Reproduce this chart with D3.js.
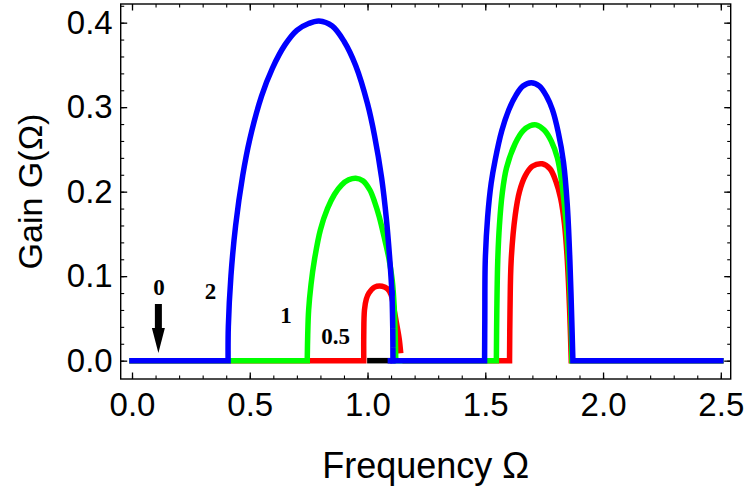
<!DOCTYPE html>
<html>
<head>
<meta charset="utf-8">
<script src="https://cdn.jsdelivr.net/npm/d3@7"></script>
<style>
  body { margin: 0; background: #fff; }
  svg { display: block; }
</style>
</head>
<body>
<div id="vis"></div>
<script>
// tick labels
const xTicks = [0, 0.5, 1, 1.5, 2, 2.5];
const yTicks = [0, 0.1, 0.2, 0.3, 0.4];
const xMinor = d3.range(0, 26).map(i => i / 10);
const yMinor = d3.range(0, 22).map(i => i / 50);

// curves, [frequency, gain]; null breaks a line
const blackLine = [[1.01, 0], [1.095, 0]];

const redLine = [[0, 0], [0.984, 0], null,
  [0.984, 0], [0.984, 0.03], [0.987, 0.06], [0.995, 0.073], [1.006, 0.08],
  [1.03, 0.087], [1.062, 0.088], [1.085, 0.085], [1.10, 0.078], [1.113, 0.06], [1.126, 0.04],
  [1.135, 0.025], [1.14, 0.012], null,
  [1.16, 0], [1.603, 0], null,
  [1.603, 0], [1.605, 0.06], [1.61, 0.119], [1.627, 0.172], [1.645, 0.2], [1.67, 0.219],
  [1.70, 0.23], [1.742, 0.233], [1.775, 0.227], [1.80, 0.212], [1.82, 0.192], [1.836, 0.162],
  [1.848, 0.12], [1.858, 0.06], [1.865, 0], null,
  [1.865, 0], [2.5, 0]];

const greenLine = [[0, 0], [0.744, 0], null,
  [0.744, 0], [0.746, 0.03], [0.75, 0.06], [0.76, 0.09], [0.775, 0.12],
  [0.80, 0.155], [0.83, 0.18], [0.86, 0.197], [0.89, 0.208], [0.92, 0.214], [0.95, 0.216],
  [0.98, 0.213], [1.01, 0.202], [1.03, 0.188], [1.05, 0.17], [1.07, 0.147], [1.09, 0.122],
  [1.105, 0.095], [1.113, 0.065], [1.117, 0.035], [1.12, 0], null,
  [1.12, 0], [1.547, 0], null,
  [1.547, 0], [1.549, 0.06], [1.553, 0.119], [1.56, 0.16], [1.572, 0.198], [1.59, 0.228],
  [1.627, 0.257], [1.66, 0.272], [1.69, 0.278], [1.716, 0.279], [1.75, 0.273], [1.78, 0.26],
  [1.806, 0.24], [1.825, 0.21], [1.84, 0.172], [1.852, 0.125], [1.862, 0.065], [1.868, 0], null,
  [1.868, 0], [2.5, 0]];

const blueLine = [[0, 0], [0.408, 0], null,
  [0.408, 0], [0.409, 0.04], [0.42, 0.10], [0.44, 0.16], [0.47, 0.219],
  [0.50, 0.262], [0.55, 0.313], [0.596, 0.346], [0.65, 0.374], [0.70, 0.391], [0.75, 0.399],
  [0.794, 0.402], [0.85, 0.396], [0.90, 0.378], [0.95, 0.349], [1.00, 0.304], [1.03, 0.266],
  [1.06, 0.216], [1.08, 0.168], [1.095, 0.118], [1.104, 0.08]];
const blueDash = [[1.104, 0.08], [1.107, 0.04], [1.108, 0]];
const blueLine2 = [[1.097, 0], [1.497, 0], null,
  [1.497, 0], [1.498, 0.05], [1.50, 0.119], [1.51, 0.17], [1.525, 0.21],
  [1.542, 0.2375], [1.57, 0.272], [1.60, 0.297], [1.63, 0.314], [1.66, 0.325], [1.695, 0.329],
  [1.73, 0.325], [1.76, 0.313], [1.785, 0.297], [1.81, 0.27], [1.832, 0.235], [1.848, 0.185],
  [1.859, 0.12], [1.866, 0.06], [1.872, 0], null,
  [1.872, 0], [2.5, 0]];

// curve labels and the arrow
const curveLabels = [
  {text: "0", x: 0.115, y: 0.087},
  {text: "2", x: 0.333, y: 0.082},
  {text: "1", x: 0.654, y: 0.054},
  {text: "0.5", x: 0.865, y: 0.029}
];
const arrowX = 0.112, arrowFrom = 0.067, arrowTo = 0.009;

const W = 750, H = 492;
const frame = {left: 120.7, right: 730.7, top: 4, bottom: 379};

const svg = d3.select("#vis").append("svg")
  .attr("width", W)
  .attr("height", H);

const x = d3.scaleLinear().domain([-0.048, 2.542]).range([frame.left, frame.right]);
const y = d3.scaleLinear().domain([-0.0217, 0.4221]).range([frame.bottom, frame.top]);

const font = "'Liberation Sans', Arial, sans-serif";

// ticks on all four sides, pointing inwards
function drawAxis(axisFn, scale, pos, major, minor, labels) {
  const gMinor = svg.append("g")
    .attr("transform", pos)
    .call(axisFn(scale).tickValues(minor).tickSize(-3.5).tickFormat(""));
  gMinor.select(".domain").remove();
  const g = svg.append("g")
    .attr("transform", pos)
    .call(axisFn(scale).tickValues(major).tickSize(-6.5).tickPadding(labels ? 14 : 0)
      .tickFormat(labels ? d3.format(".1f") : ""));
  g.select(".domain").remove();
  g.selectAll("line").attr("stroke", "#000").attr("stroke-width", 1.3);
  gMinor.selectAll("line").attr("stroke", "#000").attr("stroke-width", 1.1);
  g.selectAll("text").style("font-family", font).style("font-size", "33px").attr("fill", "#000");
  return g;
}
const gx = drawAxis(d3.axisBottom, x, `translate(0,${frame.bottom})`, xTicks, xMinor, true);
drawAxis(d3.axisTop, x, `translate(0,${frame.top})`, xTicks, xMinor, false);
const gy = drawAxis(d3.axisLeft, y, `translate(${frame.left},0)`, yTicks, yMinor, true);
drawAxis(d3.axisRight, y, `translate(${frame.right},0)`, yTicks, yMinor, false);
gx.selectAll("text").attr("dy", "0.7em");
gy.selectAll("text").attr("x", -8);

const line = d3.line()
  .defined(d => d !== null)
  .x(d => x(d[0]))
  .y(d => y(d[1]))
  .curve(d3.curveCatmullRom.alpha(0.5));

const plot = svg.append("g");
function drawCurve(data, color, dash) {
  plot.append("path")
    .datum(data)
    .attr("d", line)
    .attr("fill", "none")
    .attr("stroke", color)
    .attr("stroke-width", 5.5)
    .attr("stroke-linejoin", "round")
    .attr("stroke-linecap", "square")
    .attr("stroke-dasharray", dash || null);
}
drawCurve(blackLine, "#000");
drawCurve(redLine, "#ff0000");
drawCurve(greenLine, "#00ff00");
drawCurve(blueLine, "#0000ff");
drawCurve(blueDash, "#0000ff", "14,5");
drawCurve(blueLine2, "#0000ff");

// frame
svg.append("rect")
  .attr("x", frame.left).attr("y", frame.top)
  .attr("width", frame.right - frame.left)
  .attr("height", frame.bottom - frame.top)
  .attr("fill", "none")
  .attr("stroke", "#000")
  .attr("stroke-width", 1.4);

// labels on the curves
svg.append("g").selectAll("text")
  .data(curveLabels)
  .join("text")
    .attr("x", d => x(d.x))
    .attr("y", d => y(d.y))
    .attr("dy", "0.35em")
    .attr("text-anchor", "middle")
    .style("font-family", "'Liberation Serif', 'Times New Roman', serif")
    .style("font-weight", "bold")
    .style("font-size", "23px")
    .text(d => d.text);

// arrow pointing at the baseline
const ax = x(arrowX), a0 = y(arrowFrom), a1 = y(arrowTo), headLen = 25;
svg.append("path")
  .attr("d", `M${ax - 3.5},${a0} L${ax + 3.5},${a0} L${ax + 3.5},${a1 - headLen}
    L${ax + 6.5},${a1 - headLen} L${ax},${a1} L${ax - 6.5},${a1 - headLen}
    L${ax - 3.5},${a1 - headLen} Z`)
  .attr("fill", "#000");

// axis titles
svg.append("text")
  .attr("x", (frame.left + frame.right) / 2)
  .attr("y", 478)
  .attr("text-anchor", "middle")
  .style("font-family", font)
  .style("font-size", "36px")
  .text("Frequency \u03A9");

svg.append("text")
  .attr("transform", `translate(42,${(frame.top + frame.bottom) / 2}) rotate(-90)`)
  .attr("text-anchor", "middle")
  .style("font-family", font)
  .style("font-size", "34px")
  .text("Gain G(\u03A9)");
</script>
</body>
</html>
